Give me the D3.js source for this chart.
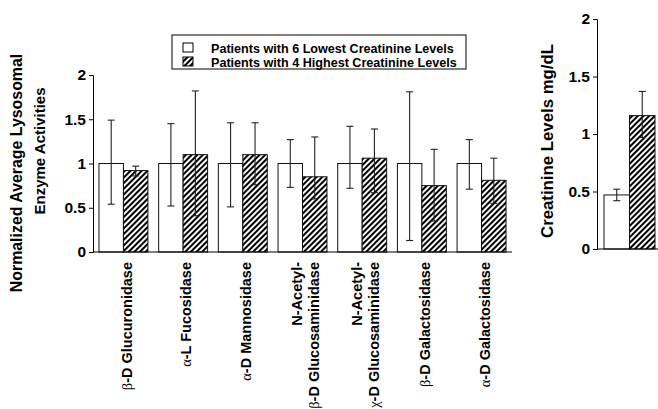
<!DOCTYPE html>
<html>
  <head>
    <meta charset="UTF-8" />
    <title>Lysosomal enzyme activities</title>
    <script src="https://cdn.jsdelivr.net/npm/d3@7"></script>
    <style>
      body {
        margin: 0;
        background: #fff;
      }
      svg text {
        font-family: "Liberation Sans", Arial, sans-serif;
        font-weight: bold;
        fill: #000;
      }
      .greek {
        font-family: "Liberation Serif", "DejaVu Serif", serif;
        font-weight: normal;
      }
    </style>
  </head>
  <body>
    <div class="chart"></div>

    <script>
      // data
      let categories = [
        ["β-D Glucuronidase"],
        ["α-L Fucosidase"],
        ["α-D Mannosidase"],
        ["N-Acetyl-", "β-D Glucosaminidase"],
        ["N-Acetyl-", "χ-D Glucosaminidase"],
        ["β-D Galactosidase"],
        ["α-D Galactosidase"],
      ];
      let lowMean = [1, 1, 1, 1, 1, 1, 1];
      let lowUpper = [1.49, 1.45, 1.46, 1.27, 1.42, 1.81, 1.27];
      let lowLower = [0.54, 0.52, 0.51, 0.73, 0.72, 0.13, 0.71];
      let highMean = [0.92, 1.1, 1.1, 0.85, 1.06, 0.75, 0.81];
      let highUpper = [0.97, 1.82, 1.46, 1.3, 1.39, 1.16, 1.06];
      let highLower = [0.86, 0.41, 0.76, 0.6, 0.67, 0.35, 0.55];

      let creatGroups = ["low", "high"];
      let creatMean = [0.47, 1.16];
      let creatUpper = [0.52, 1.37];
      let creatLower = [0.42, 0.97];

      let yTicks = [0, 0.5, 1, 1.5, 2];
      let legendLabels = [
        "Patients with 6 Lowest Creatinine Levels",
        "Patients with 4 Highest Creatinine Levels",
      ];

      let width = 658;
      let height = 409;

      let svg = d3
        .select(".chart")
        .append("svg")
        .attr("width", width)
        .attr("height", height);

      // hatch pattern
      let pat = svg
        .append("defs")
        .append("pattern")
        .attr("id", "hatch")
        .attr("patternUnits", "userSpaceOnUse")
        .attr("width", 4)
        .attr("height", 4)
        .attr("patternTransform", "rotate(45)");
      pat.append("rect").attr("width", 4).attr("height", 4).attr("fill", "#fff");
      pat
        .append("line")
        .attr("x1", 1)
        .attr("y1", 0)
        .attr("x2", 1)
        .attr("y2", 4)
        .attr("stroke", "#000")
        .attr("stroke-width", 2.1);

      // ---- left chart ----
      let x = d3
        .scaleBand()
        .domain(d3.range(categories.length))
        .range([93, 512])
        .paddingInner(0.18)
        .paddingOuter(0.1);
      let sub = d3
        .scaleBand()
        .domain(["low", "high"])
        .range([0, x.bandwidth()]);
      let y = d3.scaleLinear().domain([0, 2]).range([252, 75]);

      let series = [
        { key: "low", mean: lowMean, up: lowUpper, lo: lowLower, fill: "#fff" },
        { key: "high", mean: highMean, up: highUpper, lo: highLower, fill: "url(#hatch)" },
      ];

      series.forEach((s) => {
        let g = svg.append("g");
        g.selectAll("rect")
          .data(s.mean)
          .enter()
          .append("rect")
          .attr("x", (d, i) => x(i) + sub(s.key))
          .attr("y", (d) => y(d))
          .attr("width", sub.bandwidth())
          .attr("height", (d) => y(0) - y(d))
          .attr("fill", s.fill)
          .attr("stroke", "#111")
          .attr("stroke-width", 1);

        // error bars
        let eb = g
          .selectAll("g.err")
          .data(s.mean)
          .enter()
          .append("g")
          .attr("stroke", "#222")
          .attr("stroke-width", 1.1);
        let cx = (i) => x(i) + sub(s.key) + sub.bandwidth() / 2;
        eb.append("line")
          .attr("x1", (d, i) => cx(i))
          .attr("x2", (d, i) => cx(i))
          .attr("y1", (d, i) => y(s.up[i]))
          .attr("y2", (d, i) => y(s.lo[i]));
        [s.up, s.lo].forEach((arr) => {
          eb.append("line")
            .attr("x1", (d, i) => cx(i) - 3.5)
            .attr("x2", (d, i) => cx(i) + 3.5)
            .attr("y1", (d, i) => y(arr[i]))
            .attr("y2", (d, i) => y(arr[i]));
        });
      });

      // axes
      let yAxis = svg
        .append("g")
        .attr("transform", "translate(93,0)")
        .call(
          d3.axisLeft(y).tickValues(yTicks).tickFormat(d3.format("")).tickSize(4).tickPadding(3)
        );
      yAxis.selectAll("text").style("font-size", "15.5px");

      svg
        .append("line")
        .attr("x1", 93)
        .attr("x2", 512)
        .attr("y1", y(0))
        .attr("y2", y(0))
        .attr("stroke", "#000");

      // category labels
      let labels = svg
        .selectAll("g.cat")
        .data(categories)
        .enter()
        .append("g")
        .attr("transform", (d, i) => `translate(${x(i) + x.bandwidth() / 2 + 3},262) rotate(-90)`);
      labels.each(function (lines) {
        let g = d3.select(this);
        lines.forEach((line, j) => {
          let t = g
            .append("text")
            .attr("text-anchor", "end")
            .attr("x", 0)
            .attr("y", (j - (lines.length - 1) / 2) * 17)
            .attr("dy", "0.35em")
            .style("font-size", "14.5px");
          let first = line.charAt(0);
          if (/[α-ωΑ-Ω]/.test(first)) {
            t.append("tspan").attr("class", "greek").text(first);
            t.append("tspan").text(line.slice(1));
          } else {
            t.text(line);
          }
        });
      });

      // y label
      svg
        .append("text")
        .attr("transform", "translate(22,173) rotate(-90)")
        .attr("text-anchor", "middle")
        .style("font-size", "15.9px")
        .text("Normalized Average Lysosomal");
      svg
        .append("text")
        .attr("transform", "translate(45,151) rotate(-90)")
        .attr("text-anchor", "middle")
        .style("font-size", "15px")
        .text("Enzyme Activities");

      // legend
      let legend = svg.append("g");
      legend
        .append("rect")
        .attr("x", 172)
        .attr("y", 35)
        .attr("width", 294)
        .attr("height", 34)
        .attr("fill", "#fff")
        .attr("stroke", "#000");
      legendLabels.forEach((label, i) => {
        legend
          .append("rect")
          .attr("x", 183)
          .attr("y", 43 + i * 14)
          .attr("width", 10)
          .attr("height", 9)
          .attr("fill", series[i].fill)
          .attr("stroke", "#000");
        legend
          .append("text")
          .attr("x", 211)
          .attr("y", 53 + i * 14)
          .style("font-size", "12.6px")
          .text(label);
      });

      // ---- right chart ----
      let x2 = d3.scaleBand().domain(creatGroups).range([604, 655]);
      let y2 = d3.scaleLinear().domain([0, 2]).range([249, 19]);
      let right = svg.append("g");
      right
        .selectAll("rect")
        .data(creatMean)
        .enter()
        .append("rect")
        .attr("x", (d, i) => x2(creatGroups[i]))
        .attr("y", (d) => y2(d))
        .attr("width", x2.bandwidth())
        .attr("height", (d) => y2(0) - y2(d))
        .attr("fill", (d, i) => series[i].fill)
        .attr("stroke", "#111");
      let eb2 = right
        .selectAll("g.err")
        .data(creatMean)
        .enter()
        .append("g")
        .attr("stroke", "#222")
        .attr("stroke-width", 1.1);
      let cx2 = (i) => x2(creatGroups[i]) + x2.bandwidth() / 2;
      eb2.append("line")
        .attr("x1", (d, i) => cx2(i))
        .attr("x2", (d, i) => cx2(i))
        .attr("y1", (d, i) => y2(creatUpper[i]))
        .attr("y2", (d, i) => y2(creatLower[i]));
      [creatUpper, creatLower].forEach((arr) => {
        eb2.append("line")
          .attr("x1", (d, i) => cx2(i) - 3.5)
          .attr("x2", (d, i) => cx2(i) + 3.5)
          .attr("y1", (d, i) => y2(arr[i]))
          .attr("y2", (d, i) => y2(arr[i]));
      });

      let yAxis2 = svg
        .append("g")
        .attr("transform", "translate(597,0)")
        .call(
          d3.axisLeft(y2).tickValues(yTicks).tickFormat(d3.format("")).tickSize(4).tickPadding(3)
        );
      yAxis2.selectAll("text").style("font-size", "15.5px");
      svg
        .append("line")
        .attr("x1", 597)
        .attr("x2", 658)
        .attr("y1", y2(0))
        .attr("y2", y2(0))
        .attr("stroke", "#000");

      svg
        .append("text")
        .attr("transform", "translate(553,141) rotate(-90)")
        .attr("text-anchor", "middle")
        .style("font-size", "16.8px")
        .text("Creatinine Levels mg/dL");

      svg.selectAll(".domain").attr("stroke", "#000");
    </script>
  </body>
</html>
